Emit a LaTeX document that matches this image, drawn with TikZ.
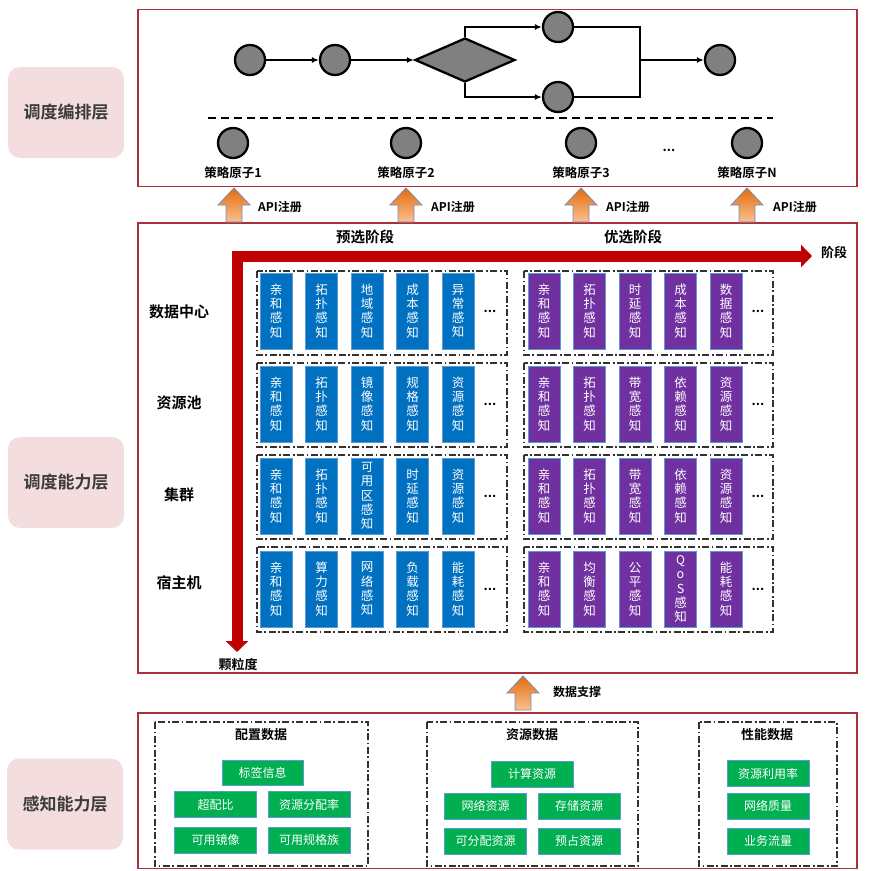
\documentclass[tikz,border=0pt]{standalone}
\usepackage{fontspec}
\setmainfont{Noto Sans CJK SC}[BoldFont={Noto Sans CJK SC Bold}]
\usetikzlibrary{shapes.geometric,arrows.meta,calc}
\definecolor{framered}{RGB}{172,48,58}
\definecolor{layerpink}{RGB}{243,221,222}
\definecolor{darkred}{RGB}{192,0,0}
\definecolor{boxblue}{RGB}{0,112,192}
\definecolor{boxpurple}{RGB}{112,48,160}
\definecolor{boxgreen}{RGB}{0,176,80}
\definecolor{edgeblue}{RGB}{91,155,213}
\definecolor{circgray}{RGB}{128,128,128}
\definecolor{arrowdark}{RGB}{228,108,10}
\definecolor{arrowlight}{RGB}{250,192,145}
\definecolor{arrowedge}{RGB}{120,140,180}
\definecolor{labelgray}{RGB}{60,60,60}
\definecolor{grpline}{RGB}{50,50,50}
\newcommand\uparrowat[2]{\path[draw=arrowedge,line width=0.8pt,top color=arrowdark,bottom color=arrowlight] (#1,#2) -- ++(16,17) -- ++(-8,0) -- ++(0,17) -- ++(-16,0) -- ++(0,-17) -- ++(-8,0) -- cycle;}
\newcommand\boxrow[9]{%
  \node[#3] (#1a) at (#4,#2) {#5};
  \node[#3] (#1b) at (#4+45.5,#2) {#6};
  \node[#3] (#1c) at (#4+91,#2) {#7};
  \node[#3] (#1d) at (#4+136.5,#2) {#8};
  \node[#3] (#1e) at (#4+182,#2) {#9};
  \node[dots] (#1x) at (#4+214,#2) {...};}
\begin{document}
\begin{tikzpicture}[x=1pt,y=-1pt,
  frame/.style={draw=framered,line width=1.8pt},
  layer/.style={fill=layerpink,rounded corners=12pt,text=labelgray,font=\fontsize{17}{20}\selectfont\bfseries,minimum width=116pt,minimum height=91pt,inner sep=0},
  flowc/.style={circle,draw,line width=2.3pt,fill=circgray,minimum size=30pt,inner sep=0},
  flow/.style={line width=1.8pt,-{Latex[length=7pt,width=6pt]}},
  plain/.style={line width=1.8pt},
  grp/.style={draw=grpline,line width=1.1pt,dash pattern=on 7pt off 2.5pt on 1.8pt off 2.5pt},
  vbox/.style={minimum width=32pt,minimum height=76pt,inner sep=0,text=white,align=center,font=\fontsize{12.5}{14.3}\selectfont,draw=edgeblue,line width=0.6pt},
  bbox/.style={vbox,fill=boxblue},
  pbox/.style={vbox,fill=boxpurple},
  gbox/.style={fill=boxgreen,draw=edgeblue,line width=0.6pt,text=white,font=\fontsize{12}{14}\selectfont,inner sep=0,minimum width=82pt,minimum height=26pt},
  dots/.style={font=\fontsize{13}{14}\selectfont\bfseries,inner sep=0},
  lbl/.style={font=\fontsize{12.5}{14}\selectfont\bfseries,inner sep=0},
  rowlbl/.style={font=\fontsize{15}{17}\selectfont\bfseries,inner sep=0},
  stage/.style={font=\fontsize{14.5}{16}\selectfont\bfseries,inner sep=0},
  bigarrow/.style={darkred,line width=11pt,-{Triangle[length=11pt,width=22pt]}}
]
\useasboundingbox (0,0) rectangle (878,870);

% ---------- layer labels ----------
\node[layer] (L1) at (66,112.5) {调度编排层};
\node[layer] (L2) at (66,482.5) {调度能力层};
\node[layer] (L3) at (65,804) {感知能力层};

% ---------- frames ----------
\draw[frame] (138,9.5) rectangle (857,186.5);
\draw[frame] (138,223) rectangle (857,673);
\draw[frame] (138,713) rectangle (857,868.5);

% ---------- top flow ----------
\node[flowc] (c1) at (250,60) {};
\node[flowc] (c2) at (335,60) {};
\node[diamond,draw,line width=2.3pt,fill=circgray,minimum width=100pt,minimum height=44pt,inner sep=0,aspect=2.27] (dm) at (465,60) {};
\node[flowc] (t) at (558,27) {};
\node[flowc] (b) at (558,97) {};
\node[flowc] (f) at (720,60) {};
\coordinate (jn) at (640,60);
\draw[flow] (c1) -- (c2);
\draw[flow] (c2) -- (dm.west);
\draw[flow] (dm.north) |- (t.west);
\draw[flow] (dm.south) |- (b.west);
\draw[plain] (t.east) -| (jn) |- (b.east);
\draw[flow] (jn) -- (f.west);

\coordinate (dl) at (208,118);
\coordinate (dr) at (773,118);
\draw[line width=2.4pt,dash pattern=on 8pt off 5pt] (dl) -- (dr);

\node[flowc] (a1) at (233,143) {};
\node[flowc] (a2) at (406,143) {};
\node[flowc] (a3) at (581,143) {};
\node[flowc] (aN) at (747,143) {};
\node[dots] (adots) at (669,150) {...};
\node[lbl] (la1) at (233,173) {策略原子1};
\node[lbl] (la2) at (406,173) {策略原子2};
\node[lbl] (la3) at (581,173) {策略原子3};
\node[lbl] (laN) at (747,173) {策略原子N};

% ---------- API arrows ----------
\uparrowat{234}{188}
\uparrowat{406}{188}
\uparrowat{581}{188}
\uparrowat{747}{188}
\node[lbl,anchor=west,font=\fontsize{12}{14}\selectfont\bfseries] (api1) at (258,207) {API注册};
\node[lbl,anchor=west,font=\fontsize{12}{14}\selectfont\bfseries] (api2) at (431,207) {API注册};
\node[lbl,anchor=west,font=\fontsize{12}{14}\selectfont\bfseries] (api3) at (606,207) {API注册};
\node[lbl,anchor=west,font=\fontsize{12}{14}\selectfont\bfseries] (api4) at (773,207) {API注册};

% ---------- middle ----------
\node[stage] (s1) at (365,237) {预选阶段};
\node[stage] (s2) at (633,237) {优选阶段};
\coordinate (hs) at (231.5,256);
\coordinate (he) at (812,256);
\coordinate (vs) at (237,250.5);
\coordinate (ve) at (237,652);
\draw[bigarrow] (hs) -- (he);
\draw[bigarrow] (vs) -- (ve);
\node[lbl,font=\fontsize{13}{14}\selectfont\bfseries] (jd) at (834,253) {阶段};
\node[lbl,font=\fontsize{13}{14}\selectfont\bfseries] (kld) at (238,665) {颗粒度};

\node[rowlbl] (r1) at (179,312) {数据中心};
\node[rowlbl] (r2) at (179,403) {资源池};
\node[rowlbl] (r3) at (179,495) {集群};
\node[rowlbl] (r4) at (179,583) {宿主机};

\draw[grp] (257,271) rectangle (507,355);
\draw[grp] (257,363) rectangle (507,447);
\draw[grp] (257,455) rectangle (507,539);
\draw[grp] (257,547) rectangle (507,632);
\draw[grp] (524,271) rectangle (773,355);
\draw[grp] (524,363) rectangle (773,447);
\draw[grp] (524,455) rectangle (773,539);
\draw[grp] (524,547) rectangle (773,632);

\boxrow{ba}{311}{bbox}{276}{亲\\和\\感\\知}{拓\\扑\\感\\知}{地\\域\\感\\知}{成\\本\\感\\知}{异\\常\\感\\知}
\boxrow{bb}{404}{bbox}{276}{亲\\和\\感\\知}{拓\\扑\\感\\知}{镜\\像\\感\\知}{规\\格\\感\\知}{资\\源\\感\\知}
\boxrow{bc}{496}{bbox}{276}{亲\\和\\感\\知}{拓\\扑\\感\\知}{\fontsize{12}{13.4}\selectfont 可\\用\\区\\感\\知}{时\\延\\感\\知}{资\\源\\感\\知}
\boxrow{bd}{589}{bbox}{276}{亲\\和\\感\\知}{算\\力\\感\\知}{网\\络\\感\\知}{负\\载\\感\\知}{能\\耗\\感\\知}
\boxrow{pa}{311}{pbox}{544}{亲\\和\\感\\知}{拓\\扑\\感\\知}{时\\延\\感\\知}{成\\本\\感\\知}{数\\据\\感\\知}
\boxrow{pb}{404}{pbox}{544}{亲\\和\\感\\知}{拓\\扑\\感\\知}{带\\宽\\感\\知}{依\\赖\\感\\知}{资\\源\\感\\知}
\boxrow{pc}{496}{pbox}{544}{亲\\和\\感\\知}{拓\\扑\\感\\知}{带\\宽\\感\\知}{依\\赖\\感\\知}{资\\源\\感\\知}
\boxrow{pd}{589}{pbox}{544}{亲\\和\\感\\知}{均\\衡\\感\\知}{公\\平\\感\\知}{\fontsize{12}{13.4}\selectfont Q\\o\\S\\感\\知}{能\\耗\\感\\知}

% ---------- data support arrow ----------
\uparrowat{523}{676}
\node[lbl,anchor=west,font=\fontsize{12}{14}\selectfont\bfseries] (sup) at (553,692) {数据支撑};

% ---------- bottom ----------
\draw[grp] (155,722) rectangle (368,866);
\draw[grp] (427,722) rectangle (638,866);
\draw[grp] (699,722) rectangle (837,866);
\node[lbl,font=\fontsize{13}{14}\selectfont\bfseries] (g1) at (261,735) {配置数据};
\node[lbl,font=\fontsize{13}{14}\selectfont\bfseries] (g2) at (532,735) {资源数据};
\node[lbl,font=\fontsize{13}{14}\selectfont\bfseries] (g3) at (767,735) {性能数据};

\node[gbox,minimum width=81pt,minimum height=25pt] (k1) at (262.5,772.5) {标签信息};
\node[gbox] (k2) at (215.5,804.5) {超配比};
\node[gbox] (k3) at (309,804.5) {资源分配率};
\node[gbox] (k4) at (215.5,840) {可用镜像};
\node[gbox] (k5) at (309,840) {可用规格族};
\node[gbox] (m1) at (532,774) {计算资源};
\node[gbox] (m2) at (485.5,806) {网络资源};
\node[gbox] (m3) at (579,806) {存储资源};
\node[gbox] (m4) at (485.5,841) {可分配资源};
\node[gbox] (m5) at (579,841) {预占资源};
\node[gbox] (n1) at (768,773.5) {资源利用率};
\node[gbox] (n2) at (768,806) {网络质量};
\node[gbox] (n3) at (768,841) {业务流量};
\end{tikzpicture}
\end{document}
